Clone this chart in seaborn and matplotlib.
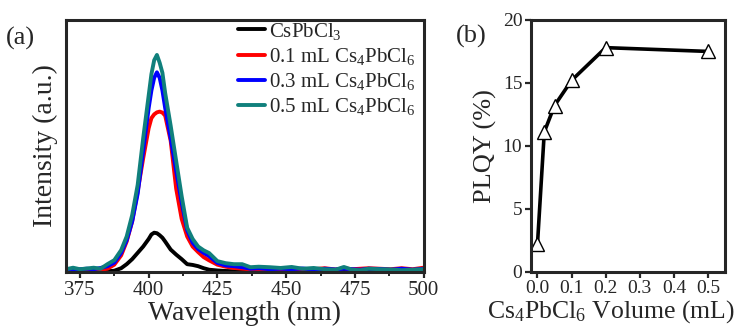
"""
plot.py
PL spectra of CsPbCl3 with added Cs4PbCl6 (a) and PLQY vs. Cs4PbCl6 volume (b)
"""

import numpy as np
import pandas as pd
import matplotlib
matplotlib.use("Agg")
import matplotlib.pyplot as plt
from matplotlib.ticker import MultipleLocator
import seaborn as sns

# ============== DATA ==============
# (a) wavelength grid (nm)
WAVELENGTH = [370, 372.5, 375, 377.5, 380, 382.5, 385, 387.5, 390, 392, 394, 396, 398,
              400, 401, 402, 403, 404, 405, 406, 408, 410, 412, 414, 416, 418, 420, 422,
              425, 428, 431, 434, 437, 440, 444, 448, 452, 456, 460, 464, 468, 471, 474,
              477, 480, 484, 488, 492, 496, 500]

# normalised intensity
I_CSPBCL3 = [0.002, 0.002, 0.002, 0.002, 0.002, 0.002, 0.002, 0.004, 0.014, 0.030, 0.050,
             0.075, 0.100, 0.130, 0.148, 0.155, 0.153, 0.145, 0.135, 0.120, 0.088, 0.068,
             0.050, 0.030, 0.027, 0.022, 0.014, 0.008, 0.005, 0.003, 0.002, 0.002, 0.002,
             0.002, 0.002, 0.002, 0.002, 0.002, 0.002, 0.002, 0.002, 0.002, 0.002, 0.002,
             0.002, 0.002, 0.002, 0.002, 0.002, 0.002]
I_01ML = [0.004, 0.004, 0.006, 0.006, 0.008, 0.008, 0.012, 0.028, 0.065, 0.120, 0.200,
          0.320, 0.450, 0.570, 0.610, 0.625, 0.633, 0.636, 0.632, 0.620, 0.520, 0.330,
          0.210, 0.140, 0.100, 0.078, 0.058, 0.045, 0.028, 0.020, 0.015, 0.012, 0.010,
          0.010, 0.010, 0.008, 0.010, 0.008, 0.010, 0.014, 0.009, 0.014, 0.010, 0.012,
          0.014, 0.012, 0.010, 0.014, 0.010, 0.016]
I_03ML = [0.006, 0.008, 0.010, 0.012, 0.010, 0.015, 0.022, 0.036, 0.075, 0.125, 0.200,
          0.310, 0.480, 0.650, 0.720, 0.770, 0.792, 0.770, 0.720, 0.650, 0.530, 0.400,
          0.275, 0.165, 0.115, 0.090, 0.075, 0.062, 0.035, 0.025, 0.022, 0.018, 0.012,
          0.014, 0.010, 0.012, 0.010, 0.013, 0.008, 0.012, 0.009, 0.012, 0.010, 0.008,
          0.012, 0.011, 0.008, 0.012, 0.008, 0.012]
I_05ML = [0.010, 0.016, 0.010, 0.013, 0.016, 0.012, 0.030, 0.046, 0.086, 0.140, 0.225,
          0.345, 0.530, 0.700, 0.785, 0.840, 0.861, 0.830, 0.790, 0.710, 0.580, 0.440,
          0.300, 0.175, 0.130, 0.100, 0.085, 0.074, 0.042, 0.034, 0.030, 0.030, 0.018,
          0.020, 0.018, 0.015, 0.019, 0.012, 0.015, 0.010, 0.008, 0.019, 0.008, 0.006,
          0.012, 0.010, 0.009, 0.006, 0.008, 0.010]

SERIES_LABELS = ["CsPbCl$_3$", "0.1 mL Cs$_4$PbCl$_6$",
                 "0.3 mL Cs$_4$PbCl$_6$", "0.5 mL Cs$_4$PbCl$_6$"]
SERIES_COLORS = ["black", "#ff0000", "#0000ff", "#10807c"]

# (b) PLQY vs Cs4PbCl6 volume
VOLUME = [0.0, 0.02, 0.05, 0.1, 0.2, 0.5]
PLQY = [2.2, 11.1, 13.2, 15.2, 17.8, 17.5]
# ==================================

sns.set_theme(style="ticks")
plt.rcParams["font.family"] = ["Liberation Serif", "DejaVu Serif"]
plt.rcParams["mathtext.fontset"] = "custom"
plt.rcParams["mathtext.rm"] = "Liberation Serif"
plt.rcParams["mathtext.it"] = "Liberation Serif"
plt.rcParams["axes.linewidth"] = 2.2
plt.rcParams["xtick.major.width"] = 1.6
plt.rcParams["ytick.major.width"] = 1.6
plt.rcParams["xtick.minor.width"] = 1.4

fig = plt.figure(figsize=(7.37, 3.27), dpi=100)
ax_a = fig.add_axes([0.0898, 0.169, 0.485, 0.770])
ax_b = fig.add_axes([0.720, 0.169, 0.264, 0.770])

# ---- (a) spectra ----
spectra = pd.DataFrame({"wl": WAVELENGTH})
for label, vals in zip(SERIES_LABELS, [I_CSPBCL3, I_01ML, I_03ML, I_05ML]):
    spectra[label] = vals
long_df = spectra.melt(id_vars="wl", var_name="sample", value_name="intensity")

sns.lineplot(data=long_df, x="wl", y="intensity", hue="sample",
             hue_order=SERIES_LABELS, palette=SERIES_COLORS,
             linewidth=2.8, ax=ax_a)

ax_a.set_xlim(370, 500)
ax_a.set_ylim(0, 1)
ax_a.xaxis.set_major_locator(MultipleLocator(25))
ax_a.xaxis.set_minor_locator(MultipleLocator(12.5))
ax_a.set_yticks([])
ax_a.tick_params(axis="x", labelsize=15, length=4, pad=3)
ax_a.tick_params(axis="x", which="minor", length=3)
ax_a.set_xlabel("Wavelength (nm)", fontsize=20, labelpad=0)
ax_a.set_ylabel("Intensity (a.u.)", fontsize=20, labelpad=6)

leg = ax_a.legend(loc="upper right", fontsize=15, frameon=False,
                  handlelength=1.3, handletextpad=0.2, labelspacing=0.2,
                  borderaxespad=0.0, bbox_to_anchor=(1.0, 1.03))
for line in leg.get_lines():
    line.set_linewidth(2.8)

fig.text(0.008, 0.865, "(a)", fontsize=19)

# ---- (b) PLQY ----
sns.lineplot(x=VOLUME, y=PLQY, color="black", linewidth=2.6, marker="^",
             markersize=10, markerfacecolor="white", markeredgecolor="black",
             markeredgewidth=1.0, ax=ax_b)

ax_b.set_xlim(-0.02, 0.55)
ax_b.set_ylim(0, 20)
ax_b.xaxis.set_major_locator(MultipleLocator(0.1))
ax_b.yaxis.set_major_locator(MultipleLocator(5))
ax_b.tick_params(labelsize=14, length=4, pad=2)
ax_b.set_xlabel("Cs$_4$PbCl$_6$ Volume (mL)", fontsize=18.5, labelpad=0)
ax_b.xaxis.set_label_coords(0.414, -0.105)
ax_b.set_ylabel("PLQY (%)", fontsize=19, labelpad=4)

fig.text(0.618, 0.87, "(b)", fontsize=19)

plt.savefig("out.png", dpi=100)
plt.close()
